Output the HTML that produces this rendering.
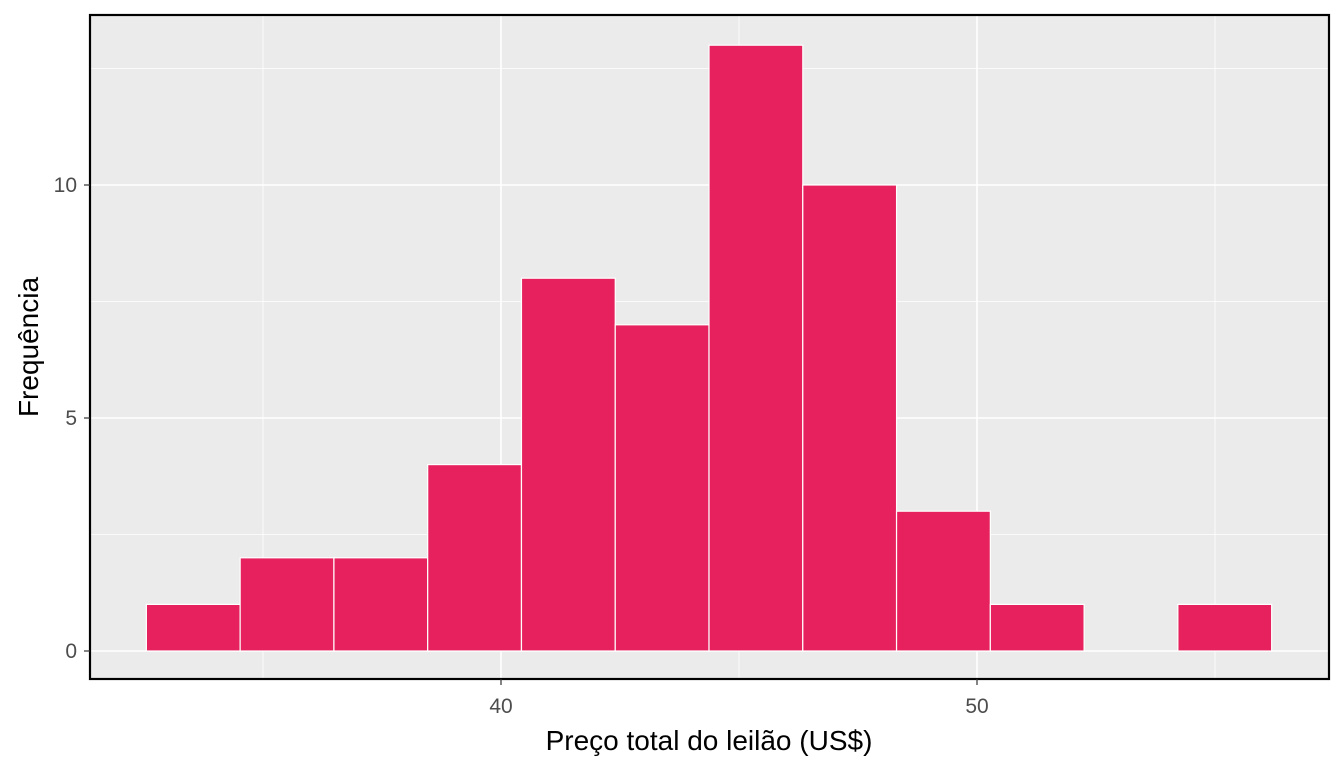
<!DOCTYPE html>
<html><head><meta charset="utf-8"><style>
html,body{margin:0;padding:0;background:#fff;}
svg{display:block;font-family:"Liberation Sans",Arial,sans-serif;}
</style></head><body>
<svg id="chart" width="1344" height="768"></svg>
<script>
const binStarts=[32.55,34.52,36.49,38.46,40.43,42.40,44.37,46.34,48.31,50.28,52.25,54.22];
const binWidth=1.97;
const counts=[1,2,2,4,8,7,13,10,3,1,0,1];
const xTicks=[40,50];
const xMinor=[35,45,55];
const yTicks=[0,5,10];
const yMinor=[2.5,7.5,12.5];
const P={l:90,r:1329,t:15,b:679};
const xs=v=>501+(v-40)*47.6;
const ys=v=>651-v*46.6;
const NS='http://www.w3.org/2000/svg';
const svg=document.getElementById('chart');
function mk(tag,attrs,parent){const e=document.createElementNS(NS,tag);for(const k in attrs)e.setAttribute(k,attrs[k]);(parent||svg).appendChild(e);return e;}
const bg=mk('rect',{x:P.l,y:P.t,width:P.r-P.l,height:P.b-P.t,fill:'#ebebeb'});


xMinor.forEach(v=>{const l=mk('line',{x1:xs(v),x2:xs(v),y1:P.t,y2:P.b,stroke:'#fff','stroke-width':0.8});

});
yMinor.forEach(v=>{const l=mk('line',{x1:P.l,x2:P.r,y1:ys(v),y2:ys(v),stroke:'#fff','stroke-width':0.8});

});
xTicks.forEach(v=>{const l=mk('line',{x1:xs(v),x2:xs(v),y1:P.t,y2:P.b,stroke:'#fff','stroke-width':1.6});

});
yTicks.forEach(v=>{const l=mk('line',{x1:P.l,x2:P.r,y1:ys(v),y2:ys(v),stroke:'#fff','stroke-width':1.6});

});
binStarts.forEach((s,i)=>{if(counts[i]<=0)return;
const r=mk('rect',{x:xs(s),y:ys(counts[i]),width:xs(s+binWidth)-xs(s),height:ys(0)-ys(counts[i]),fill:'#e6215e',stroke:'#fff','stroke-width':1.2});

});
const border=mk('rect',{x:P.l,y:P.t,width:P.r-P.l,height:P.b-P.t,fill:'none',stroke:'#000','stroke-width':2.2});


yTicks.forEach(v=>{mk('line',{x1:P.l-6,x2:P.l,y1:ys(v),y2:ys(v),stroke:'#333','stroke-width':1.2});
const t=mk('text',{x:P.l-13,y:ys(v)+7,'text-anchor':'end','font-size':21,fill:'#4d4d4d'});t.textContent=v;

});
xTicks.forEach(v=>{mk('line',{x1:xs(v),x2:xs(v),y1:P.b,y2:P.b+6,stroke:'#333','stroke-width':1.2});
const t=mk('text',{x:xs(v),y:P.b+34,'text-anchor':'middle','font-size':21,fill:'#4d4d4d'});t.textContent=v;

});
const xt=mk('text',{x:709,y:750,'text-anchor':'middle','font-size':28,fill:'#000'});xt.textContent='Preço total do leilão (US$)';


const yt=mk('text',{x:0,y:0,'text-anchor':'middle','font-size':28,fill:'#000',transform:'translate(38,347) rotate(-90)'});yt.textContent='Frequência';


</script>
</body></html>
